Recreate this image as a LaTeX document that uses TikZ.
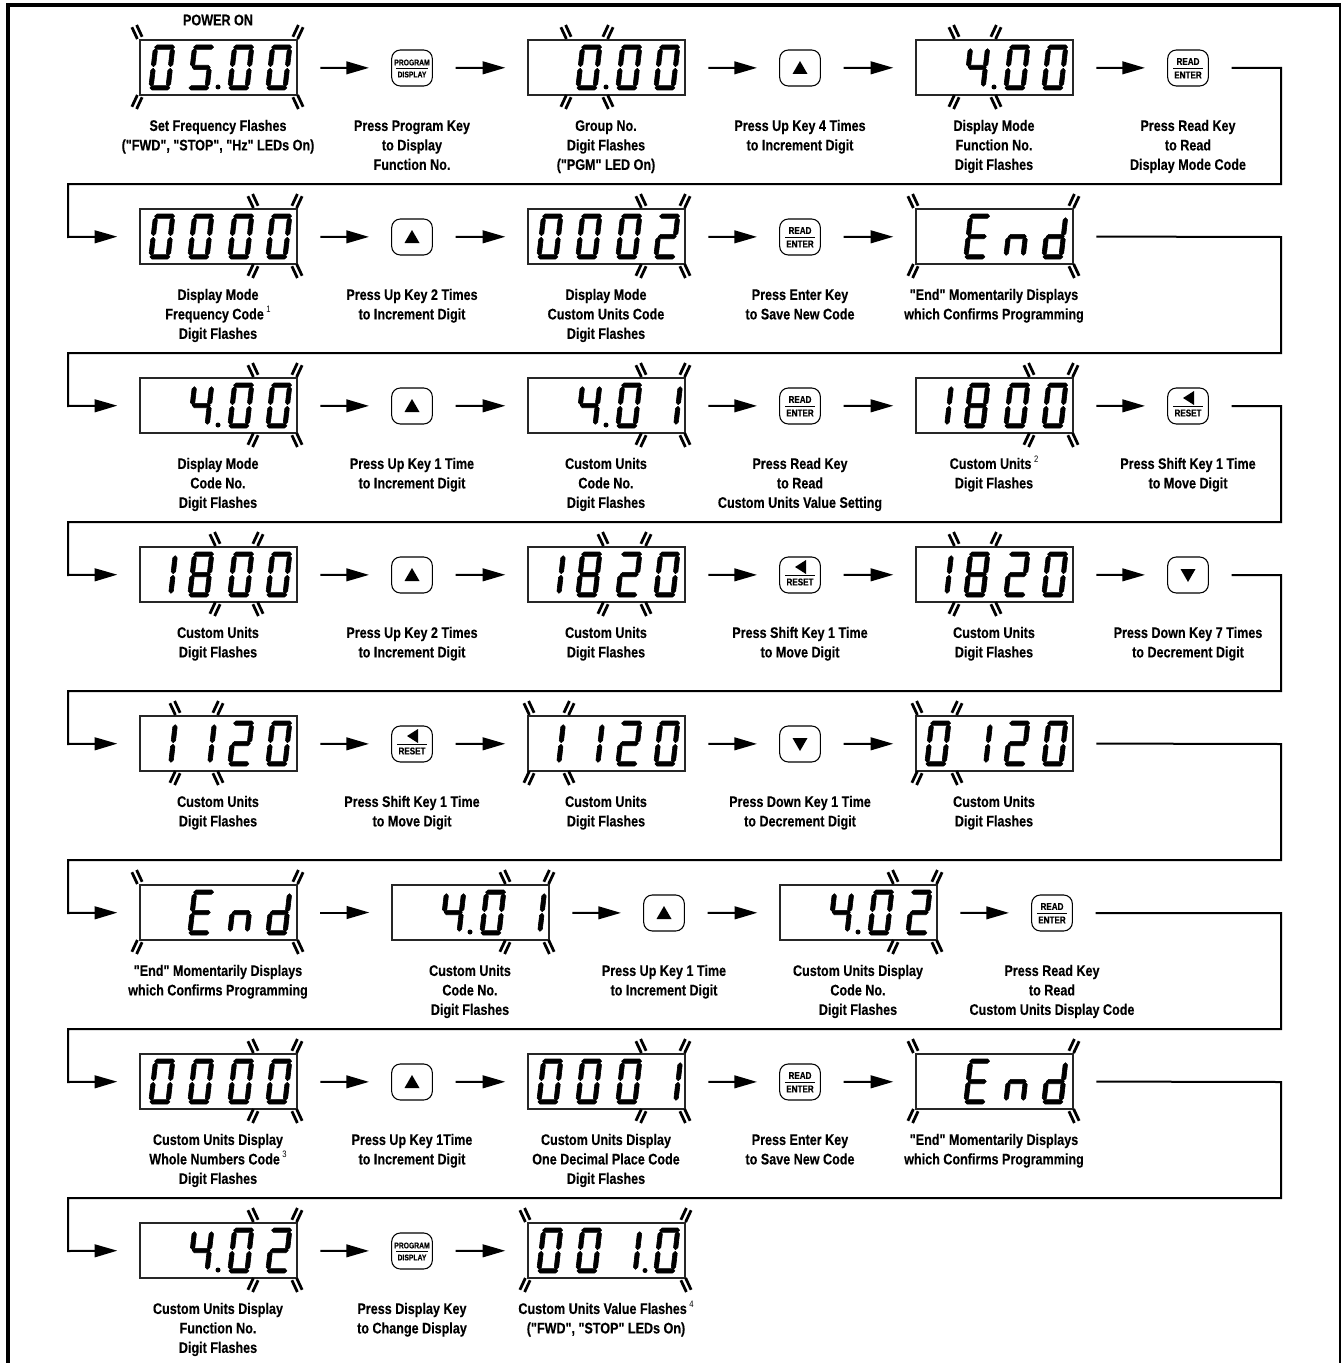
\documentclass[tikz,border=0pt]{standalone}
\usepackage{fontspec}
\usetikzlibrary{arrows.meta}
\newfontfamily\capfont[FakeStretch=0.82,BoldFeatures={FakeBold=0.25}]{Liberation Sans}
\tikzset{
  flow/.style={line width=1.5pt,-{Triangle[length=17pt,width=9.5pt]},shorten <=17.5pt,shorten >=17pt},
  dispbox/.style={draw=black!85,line width=1.6pt,minimum width=117.75pt,minimum height=41pt,inner sep=0pt,outer sep=0pt},
  keybox/.style={draw=black,line width=0.8pt,rounded corners=6.5pt,minimum width=30.5pt,minimum height=27pt,inner sep=0pt,outer sep=0pt},
  keytxt/.style={inner sep=0pt,font=\capfont\bfseries\fontsize{7.4}{8}\selectfont},
  keysmall/.style={inner sep=0pt,font=\capfont\bfseries\fontsize{6.2}{8}\selectfont},
  captxt/.style={anchor=north,align=center,inner sep=0pt,font=\capfont\bfseries\fontsize{11.5}{14.6}\selectfont},
  flashline/.style={line width=2.1pt},
  segm/.style={fill=black,draw=black,line width=.45pt,line join=round}
}
% segments, local origin = lower left of the digit, up is negative
\newcommand\hs[3]{\path[segm] (#1,#3) -- (#1+2.2,#3-2.2) -- (#2-2.2,#3-2.2) -- (#2,#3) -- (#2-2.2,#3+2.2) -- (#1+2.2,#3+2.2) -- cycle;}
\newcommand\vs[3]{\path[segm] (#1,#2) -- (#1+2.2,#2+2.2) -- (#1+2.2,#3-2.2) -- (#1,#3) -- (#1-2.2,#3-2.2) -- (#1-2.2,#2+2.2) -- cycle;}
\newcommand\sgA{\hs{1.2}{21.2}{-42.8}}
\newcommand\sgG{\hs{2.2}{20.2}{-22.5}}
\newcommand\sgD{\hs{1.2}{21.2}{-2.2}}
\newcommand\sgF{\vs{2.2}{-41.3}{-23.3}}
\newcommand\sgE{\vs{2.2}{-21.7}{-3.7}}
\newcommand\sgB{\vs{19.3}{-41.3}{-23.3}}
\newcommand\sgC{\vs{19.3}{-21.7}{-3.7}}
\expandafter\def\csname dig0\endcsname{\sgA\sgB\sgC\sgD\sgE\sgF}
\expandafter\def\csname dig1\endcsname{\vs{22}{-41.3}{-23.3}\vs{22}{-21.7}{-3.7}}
\expandafter\def\csname dig2\endcsname{\sgA\sgB\sgG\sgE\sgD}
\expandafter\def\csname dig4\endcsname{\sgF\sgG\sgB\sgC}
\expandafter\def\csname dig5\endcsname{\sgA\sgF\sgG\sgC\sgD}
\expandafter\def\csname dig8\endcsname{\sgA\sgB\sgC\sgD\sgE\sgF\sgG}
\expandafter\def\csname digE\endcsname{\sgA\sgF\sgG\sgE\sgD}
\expandafter\def\csname dign\endcsname{\sgE\sgG\sgC}
\expandafter\def\csname digd\endcsname{\sgB\sgC\sgG\sgE\sgD}
\def\pA{8.5}\def\pB{47.5}\def\pC{87.5}\def\pD{125.5}
\newcommand\dg[2]{\begin{scope}[shift={(#1,49)},xslant=.115]\csname dig#2\endcsname\end{scope}}
\newcommand\dotp{\fill (78,46) circle[radius=2.5];}
\newcommand\dotpb{\fill (117,46.5) circle[radius=2.5];}
\newcommand\mk[3]{\begin{scope}[shift={(#1,#2)},rotate=#3]\draw[flashline] (-2.6,-6.5) -- (-2.6,6.5) (2.6,-6.5) -- (2.6,6.5);\end{scope}}
\newcommand\fl[2]{\mk{#1}{-9}{25}\mk{#2}{-9}{-25}\mk{#1}{61}{-25}\mk{#2}{61}{25}}
\newcommand\flC{\fl{-3}{158}}
\newcommand\flA{\fl{1}{41}}
\newcommand\flB{\fl{38}{80}}
\newcommand\flD{\fl{75}{118}}
\newcommand\flE{\fl{113}{157}}
\newcommand\disp[5]{\node[dispbox] (#1) at (#2+.5,#3-.5) {};
  \begin{scope}[shift={(#2-78,#3-27)}]#4#5\end{scope}}
% keys
\newcommand\keyb[3]{\node[keybox] (#1) at (#2,#3) {};}
\newcommand\kprog[3]{\keyb{#1}{#2}{#3}\node[keysmall] (#1a) at (#2,#3-5.5) {PROGRAM};
  \draw[line width=.6pt] (#2-16,#3) -- (#2+16,#3);\node[keysmall] (#1b) at (#2,#3+6.5) {DISPLAY};}
\newcommand\kread[3]{\keyb{#1}{#2}{#3}\node[keytxt] (#1a) at (#2,#3-6.5) {READ};
  \draw[line width=.6pt] (#2-15,#3) -- (#2+15,#3);\node[keytxt] (#1b) at (#2,#3+7) {ENTER};}
\newcommand\kshift[3]{\keyb{#1}{#2}{#3}\fill (#2-5,#3-8) -- (#2+6,#3-15) -- (#2+6,#3-1) -- cycle;
  \draw[line width=.6pt] (#2-15,#3) -- (#2+15,#3);\node[keytxt] (#1b) at (#2,#3+7) {RESET};}
\newcommand\kup[3]{\keyb{#1}{#2}{#3}\fill (#2,#3-7) -- (#2+7.5,#3+6) -- (#2-7.5,#3+6) -- cycle;}
\newcommand\kdown[3]{\keyb{#1}{#2}{#3}\fill (#2,#3+7) -- (#2+7.5,#3-6) -- (#2-7.5,#3-6) -- cycle;}
\newcommand\capt[4]{\node[captxt] (#1) at (#2,#3+50) {\rule{0pt}{9.5pt}#4};}
\newcommand\sups[1]{\,\smash{\raisebox{.42em}{\fontsize{7}{7}\selectfont\mdseries #1}}}
\begin{document}
\begin{tikzpicture}[x=.75pt,y=-.75pt]
\useasboundingbox (0,0) rectangle (1341,1363);
\fill[white] (0,0) rectangle (1341,1363);
\draw[line width=2.5pt] (8,1363) -- (8,5) -- (1340.2,5) -- (1340.2,1363);
\node[inner sep=0pt,font=\capfont\bfseries\fontsize{11.5}{14}\selectfont] (pw) at (218,20) {POWER ON};
% row 1
\disp{a1}{218}{68}{\dg\pA0\dg\pB5\dotp\dg\pC0\dg\pD0}{\flC}
\kprog{a2}{412}{68}
\disp{a3}{606}{68}{\dg\pB0\dotp\dg\pC0\dg\pD0}{\flB}
\kup{a4}{800}{68}
\disp{a5}{994}{68}{\dg\pB4\dotp\dg\pC0\dg\pD0}{\flB}
\kread{a6}{1188}{68}
\capt{ca1}{218}{68}{Set Frequency Flashes\\("FWD", "STOP", "Hz" LEDs On)}
\capt{ca2}{412}{68}{Press Program Key\\to Display\\Function No.}
\capt{ca3}{606}{68}{Group No.\\Digit Flashes\\("PGM" LED On)}
\capt{ca4}{800}{68}{Press Up Key 4 Times\\to Increment Digit}
\capt{ca5}{994}{68}{Display Mode\\Function No.\\Digit Flashes}
\capt{ca6}{1188}{68}{Press Read Key\\to Read\\Display Mode Code}
% row 2
\disp{b1}{218}{237}{\dg\pA0\dg\pB0\dg\pC0\dg\pD0}{\flE}
\kup{b2}{412}{237}
\disp{b3}{606}{237}{\dg\pA0\dg\pB0\dg\pC0\dg\pD2}{\flE}
\kread{b4}{800}{237}
\disp{b5}{994}{237}{\dg\pB E\dg\pC n\dg\pD d}{\flC}
\capt{cb1}{218}{237}{Display Mode\\Frequency Code\sups{1}\\Digit Flashes}
\capt{cb2}{412}{237}{Press Up Key 2 Times\\to Increment Digit}
\capt{cb3}{606}{237}{Display Mode\\Custom Units Code\\Digit Flashes}
\capt{cb4}{800}{237}{Press Enter Key\\to Save New Code}
\capt{cb5}{994}{237}{"End" Momentarily Displays\\which Confirms Programming}
% row 3
\disp{c1}{218}{406}{\dg\pB4\dotp\dg\pC0\dg\pD0}{\flE}
\kup{c2}{412}{406}
\disp{c3}{606}{406}{\dg\pB4\dotp\dg\pC0\dg\pD1}{\flE}
\kread{c4}{800}{406}
\disp{c5}{994}{406}{\dg\pA1\dg\pB8\dg\pC0\dg\pD0}{\flE}
\kshift{c6}{1188}{406}
\capt{cc1}{218}{406}{Display Mode\\Code No.\\Digit Flashes}
\capt{cc2}{412}{406}{Press Up Key 1 Time\\to Increment Digit}
\capt{cc3}{606}{406}{Custom Units\\Code No.\\Digit Flashes}
\capt{cc4}{800}{406}{Press Read Key\\to Read\\Custom Units Value Setting}
\capt{cc5}{994}{406}{Custom Units\sups{2}\\Digit Flashes}
\capt{cc6}{1188}{406}{Press Shift Key 1 Time\\to Move Digit}
% row 4
\disp{d1}{218}{575}{\dg\pA1\dg\pB8\dg\pC0\dg\pD0}{\flD}
\kup{d2}{412}{575}
\disp{d3}{606}{575}{\dg\pA1\dg\pB8\dg\pC2\dg\pD0}{\flD}
\kshift{d4}{800}{575}
\disp{d5}{994}{575}{\dg\pA1\dg\pB8\dg\pC2\dg\pD0}{\flB}
\kdown{d6}{1188}{575}
\capt{cd1}{218}{575}{Custom Units\\Digit Flashes}
\capt{cd2}{412}{575}{Press Up Key 2 Times\\to Increment Digit}
\capt{cd3}{606}{575}{Custom Units\\Digit Flashes}
\capt{cd4}{800}{575}{Press Shift Key 1 Time\\to Move Digit}
\capt{cd5}{994}{575}{Custom Units\\Digit Flashes}
\capt{cd6}{1188}{575}{Press Down Key 7 Times\\to Decrement Digit}
% row 5
\disp{e1}{218}{744}{\dg\pA1\dg\pB1\dg\pC2\dg\pD0}{\fl{35}{78}}
\kshift{e2}{412}{744}
\disp{e3}{606}{744}{\dg\pA1\dg\pB1\dg\pC2\dg\pD0}{\flA}
\kdown{e4}{800}{744}
\disp{e5}{994}{744}{\dg\pA0\dg\pB1\dg\pC2\dg\pD0}{\flA}
\capt{ce1}{218}{744}{Custom Units\\Digit Flashes}
\capt{ce2}{412}{744}{Press Shift Key 1 Time\\to Move Digit}
\capt{ce3}{606}{744}{Custom Units\\Digit Flashes}
\capt{ce4}{800}{744}{Press Down Key 1 Time\\to Decrement Digit}
\capt{ce5}{994}{744}{Custom Units\\Digit Flashes}
% row 6
\disp{f1}{218}{913}{\dg\pB E\dg\pC n\dg\pD d}{\flC}
\disp{f2}{470}{913}{\dg\pB4\dotp\dg\pC0\dg\pD1}{\flE}
\kup{f3}{664}{913}
\disp{f4}{858}{913}{\dg\pB4\dotp\dg\pC0\dg\pD2}{\flE}
\kread{f5}{1052}{913}
\capt{cf1}{218}{913}{"End" Momentarily Displays\\which Confirms Programming}
\capt{cf2}{470}{913}{Custom Units\\Code No.\\Digit Flashes}
\capt{cf3}{664}{913}{Press Up Key 1 Time\\to Increment Digit}
\capt{cf4}{858}{913}{Custom Units Display\\Code No.\\Digit Flashes}
\capt{cf5}{1052}{913}{Press Read Key\\to Read\\Custom Units Display Code}
% row 7
\disp{g1}{218}{1082}{\dg\pA0\dg\pB0\dg\pC0\dg\pD0}{\flE}
\kup{g2}{412}{1082}
\disp{g3}{606}{1082}{\dg\pA0\dg\pB0\dg\pC0\dg\pD1}{\flE}
\kread{g4}{800}{1082}
\disp{g5}{994}{1082}{\dg\pB E\dg\pC n\dg\pD d}{\flC}
\capt{cg1}{218}{1082}{Custom Units Display\\Whole Numbers Code\sups{3}\\Digit Flashes}
\capt{cg2}{412}{1082}{Press Up Key 1Time\\to Increment Digit}
\capt{cg3}{606}{1082}{Custom Units Display\\One Decimal Place Code\\Digit Flashes}
\capt{cg4}{800}{1082}{Press Enter Key\\to Save New Code}
\capt{cg5}{994}{1082}{"End" Momentarily Displays\\which Confirms Programming}
% row 8
\disp{h1}{218}{1251}{\dg\pB4\dotp\dg\pC0\dg\pD2}{\flE}
\kprog{h2}{412}{1251}
\disp{h3}{606}{1251}{\dg\pA0\dg\pB0\dg{85}1\dotpb\dg\pD0}{\flC}
\capt{ch1}{218}{1251}{Custom Units Display\\Function No.\\Digit Flashes}
\capt{ch2}{412}{1251}{Press Display Key\\to Change Display}
\capt{ch3}{606}{1251}{Custom Units Value Flashes\sups{4}\\("FWD", "STOP" LEDs On)}
% turn points
\coordinate (t1a) at (1281,68);\coordinate (t1b) at (1281,184);\coordinate (t1c) at (68,184);\coordinate (t1d) at (68,237);
\coordinate (t2a) at (1281,237);\coordinate (t2b) at (1281,353);\coordinate (t2c) at (68,353);\coordinate (t2d) at (68,406);
\coordinate (t3a) at (1281,406);\coordinate (t3b) at (1281,522);\coordinate (t3c) at (68,522);\coordinate (t3d) at (68,575);
\coordinate (t4a) at (1281,575);\coordinate (t4b) at (1281,691);\coordinate (t4c) at (68,691);\coordinate (t4d) at (68,744);
\coordinate (t5a) at (1281,744);\coordinate (t5b) at (1281,860);\coordinate (t5c) at (68,860);\coordinate (t5d) at (68,913);
\coordinate (t6a) at (1281,913);\coordinate (t6b) at (1281,1029);\coordinate (t6c) at (68,1029);\coordinate (t6d) at (68,1082);
\coordinate (t7a) at (1281,1082);\coordinate (t7b) at (1281,1198);\coordinate (t7c) at (68,1198);\coordinate (t7d) at (68,1251);
% connectors
\draw[flow] (a1) -- (a2); \draw[flow] (a2) -- (a3); \draw[flow] (a3) -- (a4); \draw[flow] (a4) -- (a5); \draw[flow] (a5) -- (a6);
\draw[flow] (a6.east) -- (t1a) -- (t1b) -- (t1c) -- (t1d) -- (b1.west);
\draw[flow] (b1) -- (b2); \draw[flow] (b2) -- (b3); \draw[flow] (b3) -- (b4); \draw[flow] (b4) -- (b5);
\draw[flow] (b5.east) -- (t2a) -- (t2b) -- (t2c) -- (t2d) -- (c1.west);
\draw[flow] (c1) -- (c2); \draw[flow] (c2) -- (c3); \draw[flow] (c3) -- (c4); \draw[flow] (c4) -- (c5); \draw[flow] (c5) -- (c6);
\draw[flow] (c6.east) -- (t3a) -- (t3b) -- (t3c) -- (t3d) -- (d1.west);
\draw[flow] (d1) -- (d2); \draw[flow] (d2) -- (d3); \draw[flow] (d3) -- (d4); \draw[flow] (d4) -- (d5); \draw[flow] (d5) -- (d6);
\draw[flow] (d6.east) -- (t4a) -- (t4b) -- (t4c) -- (t4d) -- (e1.west);
\draw[flow] (e1) -- (e2); \draw[flow] (e2) -- (e3); \draw[flow] (e3) -- (e4); \draw[flow] (e4) -- (e5);
\draw[flow] (e5.east) -- (t5a) -- (t5b) -- (t5c) -- (t5d) -- (f1.west);
\draw[flow] (f1) -- (f2); \draw[flow] (f2) -- (f3); \draw[flow] (f3) -- (f4); \draw[flow] (f4) -- (f5);
\draw[flow] (f5.east) -- (t6a) -- (t6b) -- (t6c) -- (t6d) -- (g1.west);
\draw[flow] (g1) -- (g2); \draw[flow] (g2) -- (g3); \draw[flow] (g3) -- (g4); \draw[flow] (g4) -- (g5);
\draw[flow] (g5.east) -- (t7a) -- (t7b) -- (t7c) -- (t7d) -- (h1.west);
\draw[flow] (h1) -- (h2); \draw[flow] (h2) -- (h3);
\end{tikzpicture}
\end{document}
